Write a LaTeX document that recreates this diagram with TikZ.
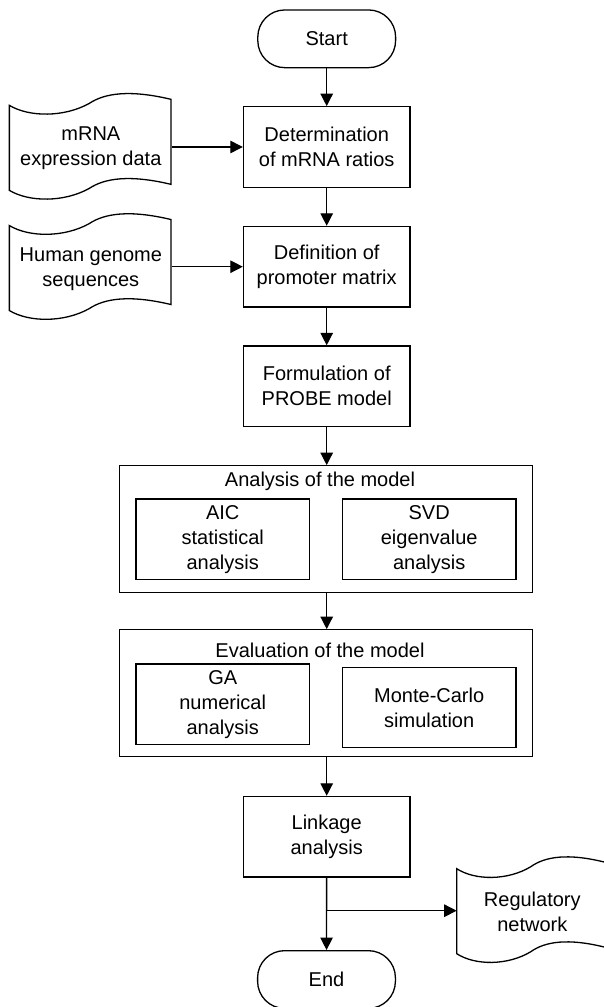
\documentclass[tikz,border=0pt]{standalone}
\usepackage{fontspec}
\setmainfont{Liberation Sans}
\usetikzlibrary{arrows.meta}
\newcommand\tapeshape[2]{%
  \begin{scope}[shift={(#1.north west)},xscale=#2]
  \draw[line width=1.3pt] (0,0) .. controls (20,12) and (55,12) .. (80,-2)
     .. controls (95,-12) and (120,-16) .. (161.7,-6) -- (161.7,79)
     .. controls (120,69) and (95,73) .. (80,83)
     .. controls (55,97) and (20,97) .. (0,85) -- cycle;
  \end{scope}}
\begin{document}
\begin{tikzpicture}[x=1pt,y=-1pt,
  every node/.style={font=\fontsize{20}{25}\selectfont, align=center, inner sep=0pt, line width=1.3pt},
  procbox/.style={draw, rectangle, minimum width=166.5pt, minimum height=80.5pt},
  subbox/.style={draw, rectangle, minimum width=173.3pt, minimum height=80.3pt},
  groupbox/.style={draw, rectangle, minimum width=413.4pt, minimum height=126.5pt},
  termbox/.style={draw, rectangle, rounded corners=27pt, minimum width=137.8pt, minimum height=57.7pt},
  tapebox/.style={rectangle, minimum width=161.7pt, minimum height=85pt},
  arr/.style={line width=1.3pt, -{Triangle[length=12.5pt,width=12.5pt]}}]
\useasboundingbox (0,0) rectangle (603,1007);
\fill[white] (0,0) rectangle (603,1007);

\node[termbox] (start) at (326.7,38.8) {Start};
\node[procbox] (det) at (326.7,147) {Determination\\of mRNA ratios};
\node[procbox] (def) at (326.7,266.7) {Definition of\\promoter matrix};
\node[procbox] (form) at (326.7,386.2) {Formulation of\\PROBE model};

\node[groupbox] (ana) at (326,529) {};
\node (anat) at (320,481.7) {Analysis of the model};
\node[subbox] (aic) at (222.7,539.2) {AIC\\statistical\\analysis};
\node[subbox] (svd) at (429.2,539.2) {SVD\\eigenvalue\\analysis};

\node[groupbox] (eval) at (326,693) {};
\node (evalt) at (320,650.7) {Evaluation of the model};
\node[subbox] (ga) at (222.7,704.2) {GA\\numerical\\analysis};
\node[subbox] (mc) at (429.2,707.5) {Monte-Carlo\\simulation};

\node[procbox] (link) at (326.7,836.7) {Linkage\\analysis};
\node[termbox] (end) at (326.5,979.5) {End};

\node[tapebox] (mrna) at (90.85,148.5) {mRNA\\expression data};
\tapeshape{mrna}{1}
\node[tapebox] (human) at (90.85,268.7) {Human genome\\sequences};
\tapeshape{human}{1}
\node[tapebox, minimum width=150pt] (reg) at (532.3,911.8) {Regulatory\\network};
\tapeshape{reg}{0.928}

\draw[arr] (start) -- (det);
\draw[arr] (det) -- (def);
\draw[arr] (def) -- (form);
\draw[arr] (form) -- (form |- ana.north);
\draw[arr] (form |- ana.south) -- (form |- eval.north);
\draw[arr] (form |- eval.south) -- (link);
\draw[arr] (link) -- (end);
\draw[arr] (mrna.east |- det.west) -- (det.west);
\draw[arr] (human.east |- def.west) -- (def.west);
\coordinate (br) at (326.7,910.7);
\draw[arr] (br) -- (br -| reg.west);
\end{tikzpicture}
\end{document}
